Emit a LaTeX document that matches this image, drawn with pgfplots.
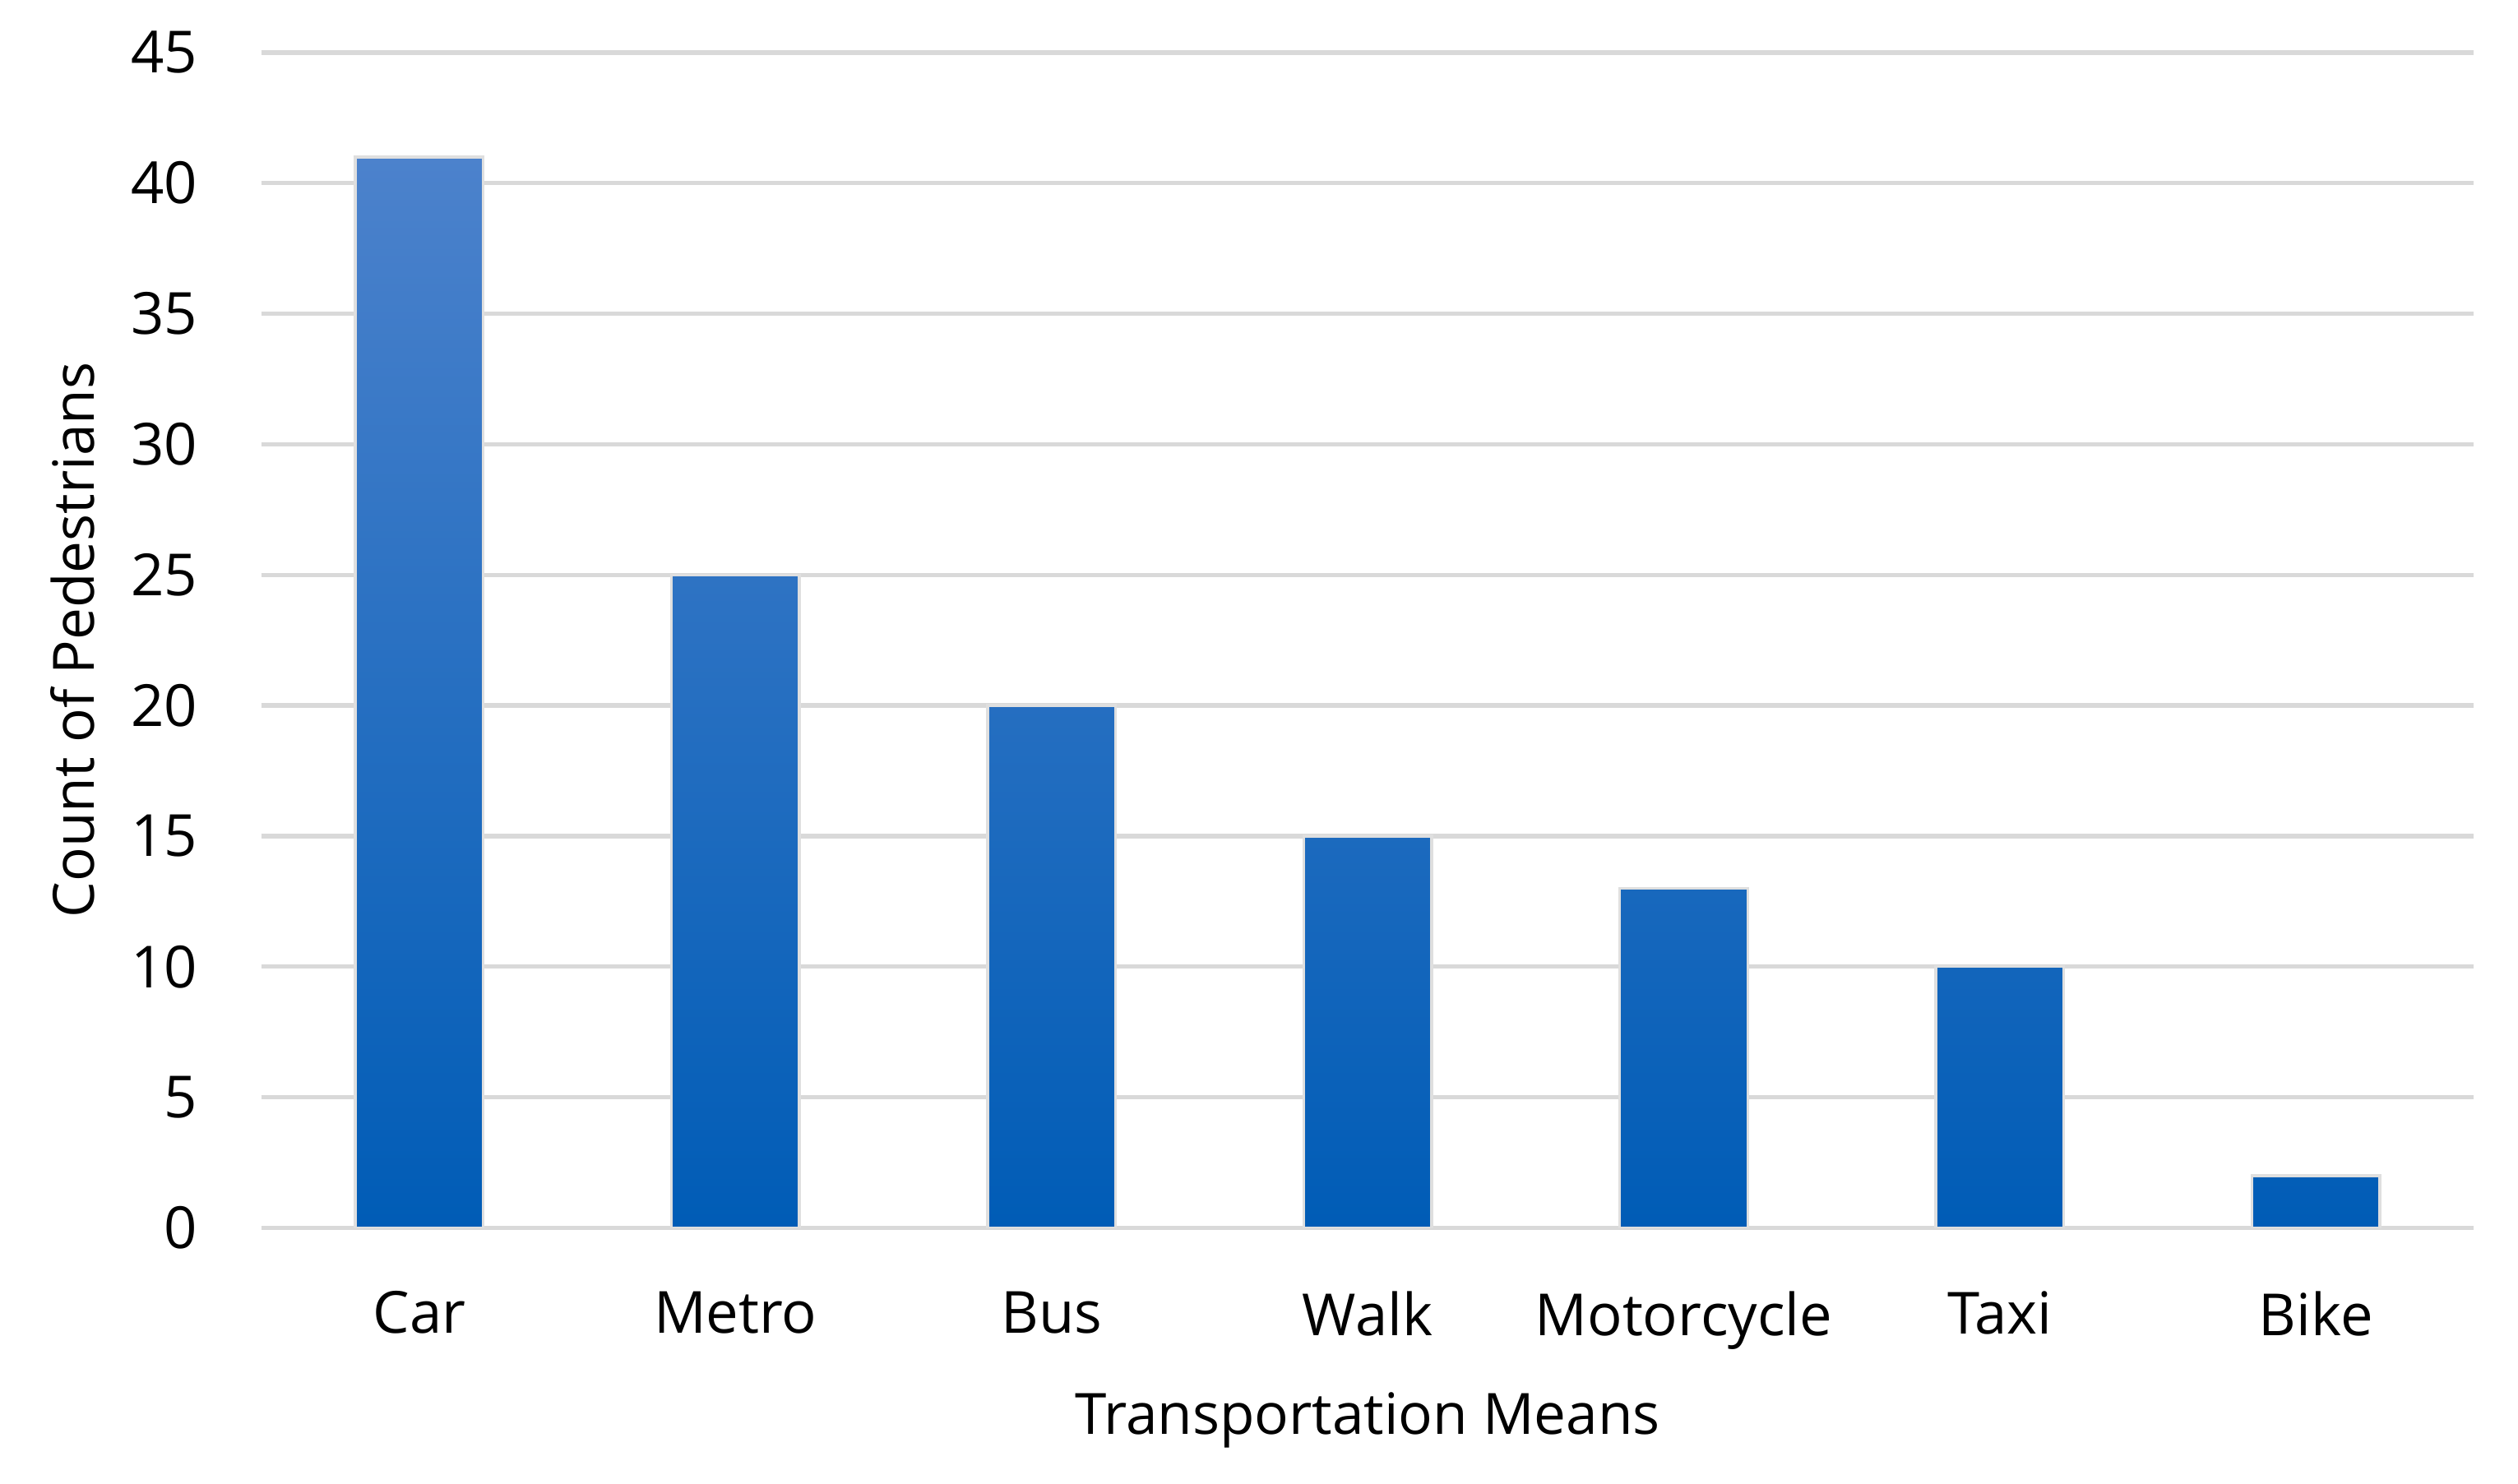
\documentclass[border=0pt]{standalone}
\usepackage{pgfplots}
\pgfplotsset{compat=1.18}
\usepackage{fontspec}
\setmainfont{Open Sans}
\definecolor{gridgray}{HTML}{D9D9D9}
\definecolor{bartop}{HTML}{4C82CC}
\definecolor{barmid}{HTML}{0070CE}
\definecolor{barbot}{HTML}{005CB6}
\begin{document}
\begin{tikzpicture}
\begin{axis}[
  scale only axis,
  width=14.06cm, height=7.47cm,
  xmin=-0.5, xmax=6.5,
  ymin=0, ymax=45,
  ytick={0,5,...,45},
  xtick={0,1,2,3,4,5,6},
  xticklabels={Car,Metro,Bus,Walk,Motorcycle,Taxi,Bike},
  axis line style={draw=none},
  major tick length=0pt,
  ymajorgrids,
  grid style={gridgray, line width=0.8pt},
  tick label style={font=\fontsize{10.5}{12}\selectfont, text=black},
  /pgf/number format/assume math mode=true,
  yticklabel style={xshift=-0.28cm},
  xticklabel style={yshift=-0.28cm},
  xlabel={Transportation Means},
  ylabel={Count of Pedestrians},
  label style={font=\fontsize{10.3}{12}\selectfont},
  xlabel style={at={(axis description cs:0.5,-0.164)}, anchor=center},
  ylabel style={at={(axis description cs:-0.0853,0.5)}, anchor=center},
]
\addplot[ybar, bar width=0.405, draw=gray!25, line width=0.5pt, top color=bartop, middle color=barmid, bottom color=barbot]
  coordinates {(0,41) (1,25) (2,20) (3,15) (4,13) (5,10) (6,2)};
\end{axis}
\path (current axis.south west) ++(-1.66cm,-1.625cm) coordinate (bl);
\path (current axis.north east) ++(0.28cm,0.334cm) coordinate (tr);
\useasboundingbox (bl) rectangle (tr);
\end{tikzpicture}
\end{document}
